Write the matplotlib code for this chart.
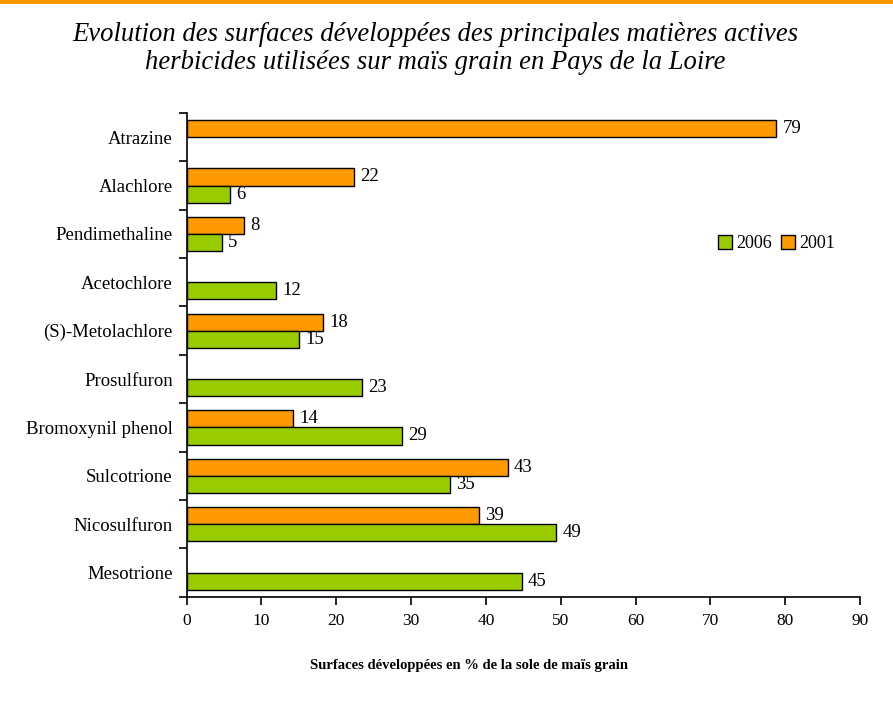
import matplotlib.pyplot as plt
import numpy as np
from matplotlib.patches import Rectangle

plt.rcParams['font.family'] = ['Liberation Serif', 'DejaVu Serif']

# categories, top to bottom
herbicides = ["Atrazine", "Alachlore", "Pendimethaline", "Acetochlore",
              "(S)-Metolachlore", "Prosulfuron", "Bromoxynil phenol",
              "Sulcotrione", "Nicosulfuron", "Mesotrione"]
# surfaces in % (nan = no bar)
vals_2001 = [78.8, 22.4, 7.7, np.nan, 18.2, np.nan, 14.2, 42.9, 39.1, np.nan]
vals_2006 = [np.nan, 5.8, 4.7, 11.9, 15.0, 23.4, 28.8, 35.2, 49.4, 44.8]
xticks = [0, 10, 20, 30, 40, 50, 60, 70, 80, 90]

green = '#99CC00'
orange = '#FF9900'

fig = plt.figure(figsize=(8.93, 7.02), dpi=100)
ax = fig.add_axes([0.209, 0.150, 0.754, 0.689])

y = np.arange(len(herbicides))
h = 0.355
b01 = ax.barh(y - h / 2, vals_2001, height=h, color=orange, edgecolor='black',
              linewidth=1.0, label='2001')
b06 = ax.barh(y + h / 2, vals_2006, height=h, color=green, edgecolor='black',
              linewidth=1.0, label='2006')

# value labels
for bars, vals in ((b01, vals_2001), (b06, vals_2006)):
    for r, v in zip(bars, vals):
        if np.isnan(v):
            continue
        ax.annotate('%.0f' % v, (v, r.get_y() + r.get_height() / 2),
                    xytext=(4.5, 0), textcoords='offset points',
                    va='center', ha='left', fontsize=13.5)

ax.set_ylim(len(herbicides) - 0.5, -0.5)
ax.set_xlim(0, 90)
ax.set_xticks(xticks)
ax.set_xticklabels([str(t) for t in xticks], fontsize=12.5)

# category names between boundary ticks
ax.set_yticks(np.arange(-0.5, len(herbicides), 1.0))
ax.set_yticklabels([])
ax.set_yticks(y, minor=True)
ax.set_yticklabels(herbicides, minor=True, fontsize=13.5)
ax.tick_params(axis='y', which='minor', length=0, pad=10)
ax.tick_params(axis='y', which='major', length=6, width=1.2)
ax.tick_params(axis='x', length=6, width=1.2, pad=6)

for s in ('top', 'right'):
    ax.spines[s].set_visible(False)
for s in ('left', 'bottom'):
    ax.spines[s].set_linewidth(1.2)

ax.set_xlabel('Surfaces développées en % de la sole de maïs grain',
              fontsize=10.5, fontweight='bold')
ax.xaxis.set_label_coords(0.42, -0.128)

handles = [b06, b01]
ax.legend(handles, ['2006', '2001'], loc='center left',
          bbox_to_anchor=(0.765, 0.73), ncol=2, frameon=False, fontsize=13,
          handlelength=0.8, handleheight=0.8, handletextpad=0.2,
          columnspacing=0.5)

fig.text(0.487, 0.9416, 'Evolution des surfaces développées des principales matières actives',
         ha='center', va='baseline', fontsize=19.2, style='italic')
fig.text(0.487, 0.9017, 'herbicides utilisées sur maïs grain en Pays de la Loire',
         ha='center', va='baseline', fontsize=19.2, style='italic')

# orange rule at the top of the page
fig.add_artist(Rectangle((0, 0.995), 1, 0.005, transform=fig.transFigure,
                         color=orange, lw=0))

fig.savefig('out.png', dpi=100)
